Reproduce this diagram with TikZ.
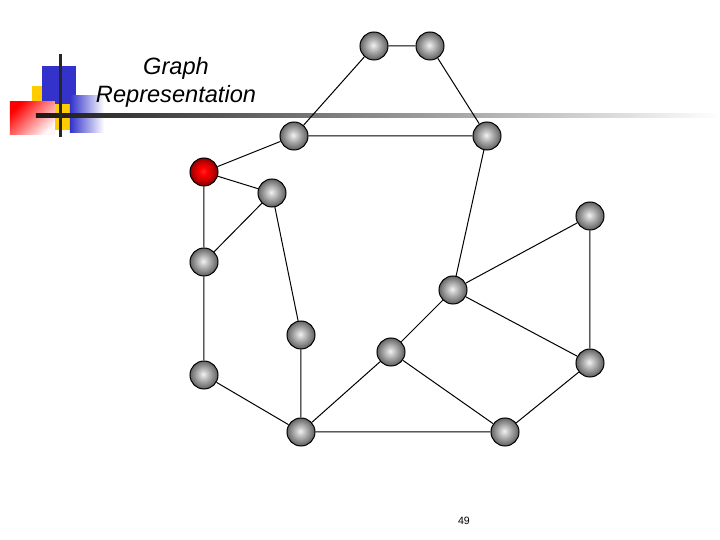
\documentclass[tikz,border=0pt]{standalone}
\usepackage{fontspec}
\setmainfont{Liberation Sans}
\definecolor{logoblue}{RGB}{51,51,204}
\definecolor{logoyellow}{RGB}{255,204,0}
\pgfdeclareradialshading{ballgray}{\pgfpoint{-1.5bp}{1.5bp}}{color(0bp)=(black!5); color(7bp)=(black!22); color(16bp)=(black!42); color(25bp)=(black!62); color(50bp)=(black!62)}
\pgfdeclareradialshading{ballred}{\pgfpoint{-1.5bp}{1.5bp}}{color(0bp)=(red!85!white); color(7bp)=(red); color(16bp)=(red!80!black); color(25bp)=(red!55!black); color(50bp)=(red!55!black)}

\begin{document}
\begin{tikzpicture}[x=0.5pt, y=-0.5pt,
      vertex/.style = {shape=circle, draw, line width=0.5pt, minimum size=14pt, inner sep=0pt, shading=ballgray},
      start/.style = {vertex, shading=ballred},
      edge/.style = {line width=0.5pt}]
    \useasboundingbox (0,0) rectangle (720,540);
    % logo
    \fill[logoyellow] (32,86) rectangle (70,130);
    \fill[logoblue] (42,66) rectangle (76,104);
    \shade[left color=logoblue, right color=white] (70,96) rectangle (104,133);
    \shade[top color=red, bottom color=red!3, shading angle=45] (10,102) rectangle (55,135);
    \shade[left color=black!90, right color=white] (36,114) rectangle (720,118);
    \fill[black!85] (59.5,54) rectangle (62.5,137);
    \node[font=\itshape\fontsize{11.8}{14}\selectfont, align=center] (title) at (176,82) {Graph\\Representation};
    \node[font=\fontsize{5.3}{6}\selectfont] (page) at (464,521) {49};
    % graph
    \node[vertex] (n1) at (374,46) {};
    \node[vertex] (n2) at (430,46) {};
    \node[vertex] (n3) at (294,136) {};
    \node[vertex] (n4) at (487,136) {};
    \node[start] (n5) at (204,172) {};
    \node[vertex] (n6) at (272,193) {};
    \node[vertex] (n7) at (590,216) {};
    \node[vertex] (n8) at (204,262) {};
    \node[vertex] (n9) at (453,290) {};
    \node[vertex] (n10) at (301,335) {};
    \node[vertex] (n11) at (391,352) {};
    \node[vertex] (n12) at (590,363) {};
    \node[vertex] (n13) at (204,375) {};
    \node[vertex] (n14) at (301,432) {};
    \node[vertex] (n15) at (505,432) {};
    \draw[edge] (n1) -- (n2) (n1) -- (n3) (n2) -- (n4) (n3) -- (n4);
    \draw[edge] (n3) -- (n5) (n5) -- (n6) (n5) -- (n8) (n6) -- (n8) (n6) -- (n10);
    \draw[edge] (n4) -- (n9) (n9) -- (n7) (n7) -- (n12) (n9) -- (n12);
    \draw[edge] (n8) -- (n13) (n13) -- (n14) (n10) -- (n14);
    \draw[edge] (n14) -- (n11) (n11) -- (n9) (n11) -- (n15) (n14) -- (n15) (n15) -- (n12);
\end{tikzpicture}
\end{document}
